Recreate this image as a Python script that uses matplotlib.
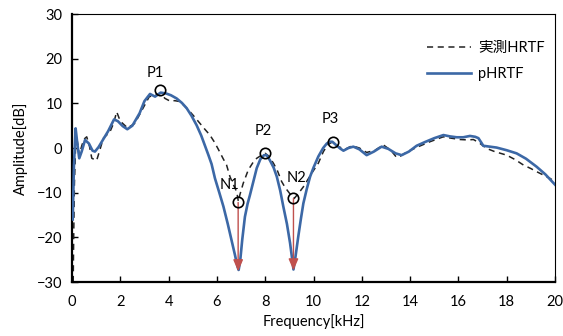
import matplotlib
matplotlib.use("Agg")
import matplotlib.pyplot as plt

plt.rcParams['font.family'] = ['Lato', 'Noto Sans CJK JP', 'DejaVu Sans']

# pHRTF (blue, solid)
f_p = [0.03, 0.08, 0.15, 0.22, 0.30, 0.40, 0.54, 0.70, 0.85, 0.95, 1.1, 1.3, 1.5, 1.74, 1.9, 2.1, 2.29, 2.5,
       2.8, 3.0, 3.23, 3.44, 3.67, 3.9, 4.1, 4.33, 4.55, 4.75, 4.95, 5.16, 5.35, 5.5, 5.65, 5.78, 5.92, 6.1,
       6.27, 6.45, 6.6, 6.75, 6.85, 6.9, 6.96, 7.05, 7.16, 7.27, 7.37, 7.51, 7.65, 7.8, 7.95, 8.06, 8.2, 8.35,
       8.48, 8.62, 8.75, 8.9, 9.03, 9.12, 9.17, 9.25, 9.37, 9.48, 9.58, 9.72, 9.86, 10.0, 10.2, 10.4, 10.55,
       10.68, 10.78, 10.95, 11.1, 11.24, 11.45, 11.65, 11.9, 12.2, 12.5, 12.82, 13.1, 13.4, 13.65, 13.95,
       14.27, 14.6, 15.0, 15.38, 15.65, 15.93, 16.2, 16.48, 16.7, 16.83, 16.95, 17.03, 17.3, 17.58, 18.0,
       18.41, 18.8, 19.24, 19.6, 20.0]
db_p = [-16, -4, 4.4, 1.0, -2.3, -0.8, 1.8, 1.0, -0.6, -0.8, 0.2, 2.0, 3.8, 6.4, 6.0, 4.9, 4.2, 5.0,
        7.8, 10.5, 12.1, 11.5, 12.4, 12.2, 11.8, 11.1, 10.1, 8.9, 7.2, 5.1, 2.8, 0.6, -1.6, -3.6, -6.8, -10,
        -13.1, -17, -20.5, -24, -26.5, -27.3, -25.5, -20.5, -15.4, -12.5, -10.5, -7.5, -4.5, -2.5, -1.6, -1.6, -2.8, -4.4,
        -6.4, -9.5, -13.1, -17, -21.3, -25, -27.2, -24.5, -19.8, -15.8, -12.4, -9.2, -6.4, -4.4, -1.9, 0.0, 1.0,
        1.4, 1.4, 0.6, -0.1, -0.6, 0.0, 0.3, -0.3, -1.6, -0.8, 0.3, -0.2, -1.2, -1.6, -0.8,
        0.5, 1.3, 2.2, 2.9, 2.6, 2.4, 2.4, 2.7, 2.5, 2.2, 1.2, 0.5, 0.3, 0.1, -0.5,
        -1.2, -2.4, -4.2, -5.9, -8.2]

# measured HRTF (black, dashed)
f_m = [0.05, 0.07, 0.10, 0.15, 0.22, 0.30, 0.41, 0.50, 0.61, 0.72, 0.82, 1.02, 1.15, 1.3, 1.57, 1.72, 1.85,
       2.0, 2.3, 2.6, 2.9, 3.2, 3.45, 3.65, 3.85, 4.06, 4.25, 4.47, 4.68, 4.89, 5.1, 5.3, 5.5, 5.71, 5.9,
       6.06, 6.25, 6.4, 6.54, 6.68, 6.82, 6.89, 6.95, 7.09, 7.3, 7.5, 7.65, 7.85, 8.0, 8.15, 8.34, 8.5, 8.68,
       8.82, 8.96, 9.1, 9.2, 9.4, 9.58, 9.75, 9.92, 10.2, 10.41, 10.6, 10.8, 11.0, 11.3, 11.6, 11.9, 12.2,
       12.55, 12.89, 13.2, 13.44, 13.6, 13.9, 14.3, 14.82, 15.37, 15.7, 16.07, 16.4, 16.62, 16.85, 17.17,
       17.5, 18.0, 18.35, 18.69, 19.0, 19.24, 19.5, 19.79, 20.0]
db_m = [-30, -20, -8, 0.5, 1.5, -1.5, 0.6, 2.0, 2.5, 0.5, -2.3, -2.8, -0.5, 2.2, 3.6, 5.5, 8.1,
        6.0, 4.5, 5.5, 8.5, 11.5, 11.8, 12.3, 11.1, 10.5, 10.6, 10.4, 9.3, 8.1, 6.8, 5.5, 4.2, 2.9, 1.3,
        -0.3, -2.3, -3.8, -6.4, -8.2, -9.8, -12.0, -10.5, -7.9, -4.9, -3.2, -2.3, -1.6, -1.2, -1.8, -3.4, -5.0, -7.5,
        -8.8, -9.8, -10.8, -11.3, -10.0, -8.7, -7.2, -5.7, -3.4, -0.8, 0.8, 1.4, 0.4, -0.3, 0.5, 0.0, -1.0,
        -0.5, 0.7, -0.5, -2.1, -1.8, -0.8, 0.2, 1.4, 2.5, 2.2, 1.9, 1.8, 1.9, 1.2, -0.1,
        -0.8, -1.6, -2.6, -3.8, -4.6, -5.3, -6.0, -6.8, -7.5]

# feature points
pt_names = ['P1', 'N1', 'P2', 'N2', 'P3']
pt_f = [3.64, 6.86, 7.99, 9.16, 10.82]
pt_db = [13.0, -12.2, -1.2, -11.3, 1.4]
label_f = [3.44, 6.54, 7.91, 9.28, 10.68]
label_db = [16.8, -8.3, 3.8, -6.7, 6.5]

# notch arrows (from measured notch to model notch)
arrow_f = [6.88, 9.17]
arrow_from = [-12.2, -11.3]
arrow_to = [-27.6, -27.4]

fig = plt.figure(figsize=(5.63, 3.36), dpi=100)
ax = fig.add_axes([72/563, 1-282/336, 483/563, 268/336])

blue = '#3C68A6'
ax.plot(f_m, db_m, color='#222222', lw=1.1, linestyle=(0, (4, 3)), label='実測HRTF', zorder=2)
ax.plot(f_p, db_p, color=blue, lw=1.9, label='pHRTF', zorder=3)

for af, a0, a1 in zip(arrow_f, arrow_from, arrow_to):
    ax.annotate('', xy=(af, a1), xytext=(af, a0),
                arrowprops=dict(arrowstyle='-|>,head_length=0.7,head_width=0.3',
                                color='#C0504D', lw=1.0, shrinkA=0, shrinkB=0), zorder=4)

ax.plot(pt_f, pt_db, linestyle='none', marker='o', ms=7.5, mfc='none', mec='black', mew=1.2, zorder=5)
for n, lf, ld in zip(pt_names, label_f, label_db):
    ax.text(lf, ld, n, ha='center', va='center', fontsize=10.5, zorder=6)

ax.set_xlim(0, 20)
ax.set_ylim(-30, 30)
ax.set_xticks(range(0, 21, 2))
ax.set_yticks(range(-30, 31, 10))
ax.tick_params(direction='in', length=4, width=1, labelsize=10.5, color='black')
ax.tick_params(axis='x', pad=9)
ax.tick_params(axis='y', pad=7)
for s in ['left', 'bottom']:
    ax.spines[s].set_linewidth(1.6)
for s in ['top', 'right']:
    ax.spines[s].set_linewidth(0.8)

ax.set_xlabel('Frequency[kHz]', fontsize=10.5, labelpad=4)
ax.set_ylabel('Amplitude[dB]', fontsize=10.5, labelpad=6)

leg = ax.legend(loc='upper left', bbox_to_anchor=(0.735, 0.90), frameon=False, fontsize=10.5,
                handlelength=3.0, handletextpad=0.5, labelspacing=0.85, borderpad=0, borderaxespad=0)

fig.savefig('out.png', dpi=100)
